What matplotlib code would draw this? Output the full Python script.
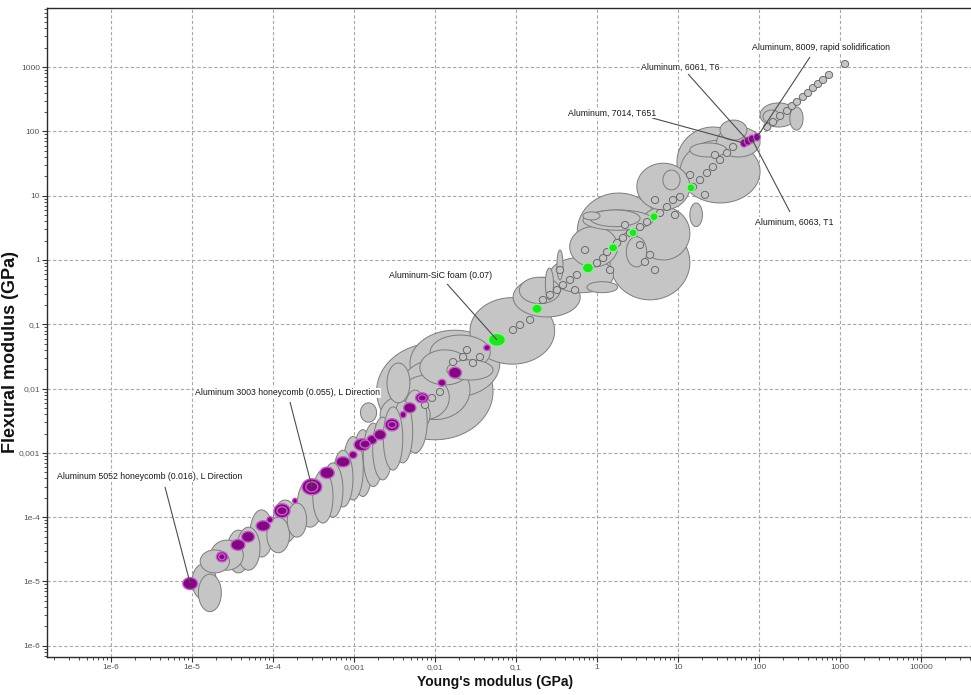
import numpy as np
import matplotlib
matplotlib.use("Agg")
import matplotlib.pyplot as plt
from matplotlib.patches import Polygon
from matplotlib.ticker import FixedLocator, FixedFormatter, LogLocator, NullFormatter

NARROW = ["Liberation Sans Narrow", "Liberation Sans", "DejaVu Sans"]
REGULAR = ["Liberation Sans", "DejaVu Sans"]

# ---------------------------------------------------------------- data (GPa)
# Background materials: Young's modulus range and flexural modulus range
gray_E_lo = [1.2e-5, 1.0e-5, 1.26e-5, 1.7e-5, 2.7e-5, 3.6e-5, 5.2e-5, 8.4e-5, 1.0e-4, 1.5e-4,
             2.0e-4, 3.1e-4, 4.1e-4, 5.5e-4, 7.3e-4, 9.7e-4, 1.3e-3, 1.7e-3, 2.3e-3, 3.0e-3,
             4.0e-3, 1.2e-3, 1.9e-3, 4.9e-3, 2.55e-3, 2.7e-2, 1.4e-2, 9.2e-2, 6.5e-3, 3.7e-3,
             0.11, 0.26, 0.57, 0.46, 2.3, 0.75, 0.32, 0.23, 0.67, 3.1,
             10.6, 14, 14, 33, 6.5, 0.82, 9.7, 3.1, 0.67, 30,
             103, 240, 112,
             3.7e-3, 8.7e-3, 2.1e-3, 1.45]
gray_E_hi = [2.3e-5, 2.0e-5, 2.9e-5, 4.3e-5, 5.2e-5, 6.9e-5, 1.0e-4, 1.6e-4, 2.0e-4, 2.6e-4,
             4.1e-4, 5.5e-4, 7.3e-4, 9.7e-4, 1.3e-3, 1.7e-3, 2.3e-3, 3.0e-3, 4.0e-3, 5.3e-3,
             8.0e-3, 1.9e-3, 5.2e-2, 6.3e-2, 4.9e-3, 0.30, 5.2e-2, 0.62, 2.7e-2, 1.5e-2,
             0.35, 1.6, 6.0, 1.8, 4.1, 1.8, 0.38, 0.29, 1.09, 14,
             103, 20, 40, 71, 10.6, 3.4, 77, 14, 4.9, 103,
             294, 350, 182,
             2.7e-2, 4.8e-2, 8.7e-3, 14]
gray_Ef_lo = [3.4e-6, 5.2e-6, 1.36e-5, 1.5e-5, 1.36e-5, 1.5e-5, 2.4e-5, 2.8e-5, 4.0e-5, 4.9e-5,
              7.0e-5, 8.1e-5, 1.0e-4, 1.44e-4, 1.85e-4, 2.1e-4, 3.0e-4, 3.8e-4, 5.4e-4, 7.0e-4,
              1.0e-3, 3.0e-3, 1.6e-3, 7.4e-3, 6.0e-3, 2.4e-2, 1.36e-2, 0.13, 1.14e-2, 3.3e-3,
              0.21, 0.31, 0.70, 0.78, 0.78, 0.31, 0.49, 0.24, 4.2, 1.0,
              7.7, 3.3, 40, 73, 12.3, 3.3, 9.5, 6.0, 2.9, 40,
              117, 105, 135,
              3.3e-3, 1.95e-2, 1.9e-3, 0.24]
gray_Ef_hi = [1.3e-5, 1.9e-5, 3.1e-5, 4.4e-5, 6.3e-5, 7.0e-5, 1.3e-4, 1.0e-4, 1.85e-4, 1.66e-4,
              3.8e-4, 5.4e-4, 7.0e-4, 1.1e-3, 1.8e-3, 2.3e-3, 2.9e-3, 3.6e-3, 5.2e-3, 6.6e-3,
              9.5e-3, 6.0e-3, 5.1e-2, 8.1e-2, 2.5e-2, 0.26, 2.8e-2, 0.54, 4.0e-2, 1.6e-2,
              0.54, 1.1, 11, 3.3, 2.3, 0.46, 1.43, 0.75, 5.6, 6.7,
              73, 7.7, 66, 150, 25, 6.0, 117, 32, 6.0, 117,
              277, 240, 215,
              2.8e-2, 6.8e-2, 7.9e-3, 3.5]

# Background materials with narrow property ranges (typical values)
dot_E = [126, 149, 182, 222, 255, 294, 349, 403, 464, 535, 617, 731, 1153,
         1.67e-2, 2.22e-2, 2.48e-2, 2.94e-2, 3.59e-2, 9.18e-2, 0.112, 0.149, 0.215, 0.263,
         0.321, 0.380, 0.464, 0.566, 1.0, 1.19, 1.33, 1.77, 2.09, 2.55, 3.40, 4.14,
         6.0, 7.31, 8.67, 10.6, 15.3, 18.7, 22.8, 27.0, 33.0, 40.3, 47.8,
         3.91, 5.2, 4.51, 0.349, 0.711, 2.22, 5.2, 14.1, 28.6, 0.535, 1.45, 3.40, 9.18, 21.5,
         7.53e-3, 9.18e-3, 1.15e-2]
dot_Ef = [117, 140, 174, 208, 248, 287, 343, 395, 473, 546, 630, 754, 1117,
          2.59e-2, 3.10e-2, 3.98e-2, 2.50e-2, 3.10e-2, 8.15e-2, 9.75e-2, 0.117, 0.239, 0.286,
          0.341, 0.408, 0.489, 0.585, 0.898, 1.07, 1.33, 1.84, 2.20, 2.63, 3.26, 3.90,
          5.38, 6.67, 8.57, 9.55, 13.7, 17.5, 22.5, 27.9, 35.9, 46.1, 57.2,
          0.931, 0.698, 1.20, 0.698, 1.43, 3.50, 8.57, 21.0, 43.0, 0.341, 0.698, 1.71, 5.01, 10.3,
          5.56e-3, 7.14e-3, 8.85e-3]

# Aluminium honeycombs
honey_E_lo = [7.7e-6, 2.0e-5, 3.03e-5, 4.1e-5, 6.2e-5, 8.4e-5, 1.03e-4, 1.74e-4, 2.28e-4, 3.8e-4,
              6.0e-4, 8.7e-4, 1.0e-3, 1.45e-3, 1.77e-3, 2.42e-3, 3.7e-3, 4.1e-3, 5.75e-3, 1.09e-2,
              1.47e-2, 4.0e-2,
              2.14e-5, 1.12e-4, 2.54e-4, 1.19e-3, 2.63e-3, 6.2e-3]
honey_E_hi = [1.17e-5, 2.75e-5, 4.5e-5, 5.9e-5, 9.2e-5, 1.0e-4, 1.62e-4, 2.0e-4, 4.0e-4, 5.7e-4,
              8.9e-4, 1.09e-3, 1.58e-3, 1.92e-3, 2.48e-3, 3.6e-3, 4.4e-3, 5.8e-3, 8.3e-3, 1.36e-2,
              2.12e-2, 4.8e-2,
              2.55e-5, 1.49e-4, 3.57e-4, 1.58e-3, 3.3e-3, 7.8e-3]
honey_Ef_lo = [7.5e-6, 2.02e-5, 3.05e-5, 4.1e-5, 6.1e-5, 8.2e-5, 9.8e-5, 1.64e-4, 2.23e-4, 4.0e-4,
               6.05e-4, 8.2e-4, 1.08e-3, 1.36e-3, 1.6e-3, 2.2e-3, 3.5e-3, 4.2e-3, 6.0e-3, 1.09e-2,
               1.45e-2, 3.9e-2,
               2.17e-5, 1.09e-4, 2.48e-4, 1.19e-3, 2.45e-3, 6.4e-3]
honey_Ef_hi = [1.15e-5, 2.9e-5, 4.5e-5, 6.0e-5, 8.8e-5, 1.02e-4, 1.62e-4, 1.97e-4, 3.95e-4, 6.0e-4,
               8.7e-4, 1.06e-3, 1.66e-3, 1.88e-3, 2.29e-3, 3.4e-3, 4.4e-3, 6.0e-3, 8.6e-3, 1.39e-2,
               2.15e-2, 4.8e-2,
               2.70e-5, 1.45e-4, 3.56e-4, 1.58e-3, 3.07e-3, 8.0e-3]

# Aluminium foams
foam_E_lo = [4.57e-2, 0.157, 0.66, 1.39, 2.48, 4.5, 12.9]
foam_E_hi = [7.4e-2, 0.21, 0.905, 1.8, 3.11, 5.66, 16.2]
foam_Ef_lo = [4.55e-2, 0.148, 0.63, 1.34, 2.3, 4.07, 11.5]
foam_Ef_hi = [7.2e-2, 0.205, 0.90, 1.79, 3.05, 5.42, 15.3]

# Wrought aluminium alloys
alloy_names = ["Aluminum, 7014, T651", "Aluminum, 6061, T6", "Aluminum, 6063, T1",
               "Aluminum, 8009, rapid solidification"]
alloy_E_lo = [59, 66, 74, 86]
alloy_E_hi = [72, 81, 90, 104]
alloy_Ef_lo = [57, 61, 66, 71]
alloy_Ef_hi = [76, 82, 88, 94]

x_ticks = [1e-6, 1e-5, 1e-4, 1e-3, 1e-2, 1e-1, 1, 10, 100, 1000, 10000]
x_tick_labels = ["1e-6", "1e-5", "1e-4", "0,001", "0,01", "0,1", "1", "10", "100", "1000", "10000"]
y_ticks = [1e-6, 1e-5, 1e-4, 1e-3, 1e-2, 1e-1, 1, 10, 100, 1000]
y_tick_labels = ["1e-6", "1e-5", "1e-4", "0,001", "0,01", "0,1", "1", "10", "100", "1000"]

# ---------------------------------------------------------------- drawing
fig = plt.figure(figsize=(9.71, 6.95), dpi=100)
ax = fig.add_axes([0.0484, 0.0547, 0.9516, 0.9338])
ax.set_xscale("log")
ax.set_yscale("log")
ax.set_xlim(1.62e-7, 4.14e4)
ax.set_ylim(6.7e-7, 8300)

T = np.linspace(0, 2 * np.pi, 96)


def bubble(e_lo, e_hi, f_lo, f_hi, face, edge, lw, z):
    cx = 0.5 * (np.log10(e_lo) + np.log10(e_hi))
    hx = 0.5 * (np.log10(e_hi) - np.log10(e_lo))
    cy = 0.5 * (np.log10(f_lo) + np.log10(f_hi))
    hy = 0.5 * (np.log10(f_hi) - np.log10(f_lo))
    pts = np.column_stack([10 ** (cx + hx * np.cos(T)), 10 ** (cy + hy * np.sin(T))])
    ax.add_patch(Polygon(pts, closed=True, facecolor=face, edgecolor=edge,
                         linewidth=lw, zorder=z))


GRAY_FACE, GRAY_EDGE = "#c5c5c5", "#7c7c7c"
PURPLE_FACE, PURPLE_EDGE = "#80097f", "#c65ccc"
GREEN_FACE, GREEN_EDGE = "#22e322", "#8ff08f"

# broad-range materials, largest drawn first
order = sorted(range(len(gray_E_lo)),
               key=lambda i: -np.log10(gray_E_hi[i] / gray_E_lo[i]) * np.log10(gray_Ef_hi[i] / gray_Ef_lo[i]))
for i in order:
    bubble(gray_E_lo[i], gray_E_hi[i], gray_Ef_lo[i], gray_Ef_hi[i], GRAY_FACE, GRAY_EDGE, 0.7, 2)

# narrow-range materials
DX, DY = 10 ** 0.045, 10 ** 0.055
for e, f in zip(dot_E, dot_Ef):
    bubble(e / DX, e * DX, f / DY, f * DY, GRAY_FACE, "#6a6a6a", 0.7, 3)

for a, b, c, d in zip(honey_E_lo, honey_E_hi, honey_Ef_lo, honey_Ef_hi):
    bubble(a, b, c, d, PURPLE_FACE, PURPLE_EDGE, 1.0, 5)
for a, b, c, d in zip(foam_E_lo, foam_E_hi, foam_Ef_lo, foam_Ef_hi):
    bubble(a, b, c, d, GREEN_FACE, GREEN_EDGE, 1.0, 5)
for a, b, c, d in zip(alloy_E_lo, alloy_E_hi, alloy_Ef_lo, alloy_Ef_hi):
    bubble(a, b, c, d, PURPLE_FACE, PURPLE_EDGE, 0.8, 5)


def centre(lo, hi, k):
    return np.sqrt(lo[k] * hi[k])


# labelled materials: (text, text anchor, leader start, target)
labels = [
    ("Aluminum 5052 honeycomb (0.016), L Direction", (2.15e-7, 4.22e-4), (4.64e-6, 2.95e-4),
     (centre(honey_E_lo, honey_E_hi, 0), centre(honey_Ef_lo, honey_Ef_hi, 0))),
    ("Aluminum 3003 honeycomb (0.055), L Direction", (1.09e-5, 8.55e-3), (1.62e-4, 6.19e-3),
     (centre(honey_E_lo, honey_E_hi, 8), centre(honey_Ef_lo, honey_Ef_hi, 8))),
    ("Aluminum-SiC foam (0.07)", (2.70e-3, 0.564), (1.41e-2, 0.424),
     (centre(foam_E_lo, foam_E_hi, 0), centre(foam_Ef_lo, foam_Ef_hi, 0))),
    (alloy_names[0], (0.438, 193), (4.78, 162),
     (centre(alloy_E_lo, alloy_E_hi, 0), centre(alloy_Ef_lo, alloy_Ef_hi, 0))),
    (alloy_names[1], (3.49, 1004), (13.3, 781),
     (centre(alloy_E_lo, alloy_E_hi, 1), centre(alloy_Ef_lo, alloy_Ef_hi, 1))),
    (alloy_names[2], (89.3, 3.90), (241, 5.58),
     (centre(alloy_E_lo, alloy_E_hi, 2), centre(alloy_Ef_lo, alloy_Ef_hi, 2))),
    (alloy_names[3], (82, 1982), (426, 1436),
     (centre(alloy_E_lo, alloy_E_hi, 3), centre(alloy_Ef_lo, alloy_Ef_hi, 3))),
]
for text, (tx, ty), (sx, sy), (px, py) in labels:
    ax.plot([sx, px], [sy, py], color="#4d4d4d", lw=0.8, zorder=6, solid_capstyle="butt")
    ax.text(tx, ty, text, ha="left", va="center", fontsize=6.3, family=NARROW, color="#1a1a1a",
            zorder=7, bbox=dict(facecolor="white", edgecolor="none", pad=0.6))

# ---------------------------------------------------------------- axes styling
ax.xaxis.set_major_locator(FixedLocator(x_ticks))
ax.xaxis.set_major_formatter(FixedFormatter(x_tick_labels))
ax.yaxis.set_major_locator(FixedLocator(y_ticks))
ax.yaxis.set_major_formatter(FixedFormatter(y_tick_labels))
for axis in (ax.xaxis, ax.yaxis):
    axis.set_minor_locator(LogLocator(base=10, subs=np.arange(2, 10), numticks=30))
    axis.set_minor_formatter(NullFormatter())

ax.tick_params(which="major", direction="out", length=3.5, width=0.8, color="#333333",
               labelsize=6, labelcolor="#555555", pad=1.5)
ax.tick_params(which="minor", direction="out", length=2, width=0.6, color="#333333")
for lab in ax.get_xticklabels() + ax.get_yticklabels():
    lab.set_family(NARROW)

ax.grid(True, which="major", color="#a8a8a8", linestyle=(0, (3, 2)), linewidth=0.8, zorder=0)
ax.set_axisbelow(True)

ax.spines["right"].set_visible(False)
for s in ("left", "bottom", "top"):
    ax.spines[s].set_color("#2a2a2a")
    ax.spines[s].set_linewidth(1.0)

ax.set_xlabel("Young's modulus (GPa)", fontsize=10, fontweight="bold", family=NARROW, color="#111111")
ax.set_ylabel("Flexural modulus (GPa)", fontsize=13, fontweight="bold", family=REGULAR, color="#111111")
ax.xaxis.set_label_coords(0.485, -0.028)
ax.yaxis.set_label_coords(-0.0303, 0.47)

fig.savefig("out.png", dpi=100, facecolor="white")
